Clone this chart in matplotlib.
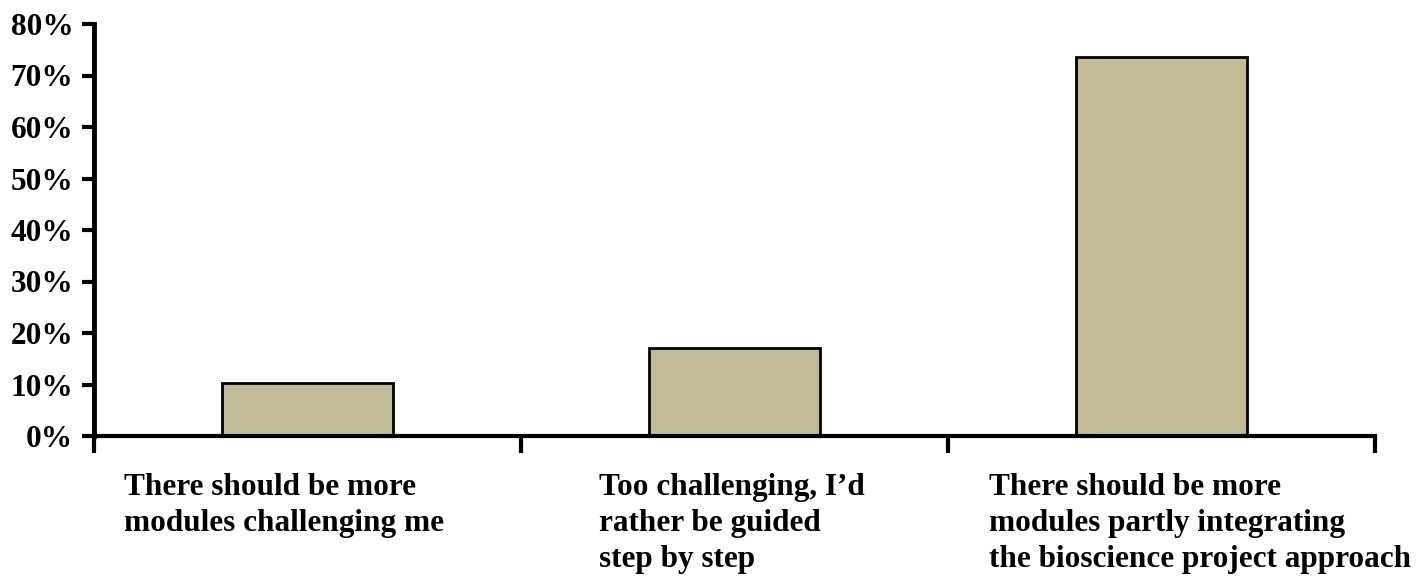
import matplotlib
matplotlib.use("Agg")
import matplotlib.pyplot as plt
from matplotlib.ticker import FixedLocator, PercentFormatter

categories = [
    "There should be more\nmodules challenging me",
    "Too challenging, I\u2019d\nrather be guided\nstep by step",
    "There should be more\nmodules partly integrating\nthe bioscience project approach",
]
shares = [10.2, 17.0, 73.5]
y_ticks = [0, 10, 20, 30, 40, 50, 60, 70, 80]

plt.rcParams["font.family"] = ["Liberation Serif", "DejaVu Serif"]
plt.rcParams["font.weight"] = "bold"

W, H = 1419, 580
fig = plt.figure(figsize=(W / 100, H / 100), dpi=100)
ax = fig.add_axes([94 / W, (H - 436) / H, (1375 - 94) / W, (436 - 24) / H])

x = list(range(len(categories)))
ax.bar(x, shares, width=0.40, color="#C1BC97", edgecolor="black", linewidth=2, zorder=2)

ax.set_xlim(-0.5, len(categories) - 0.5)
ax.set_ylim(0, 80)
ax.yaxis.set_major_locator(FixedLocator(y_ticks))
ax.yaxis.set_major_formatter(PercentFormatter(decimals=0))

for s in ("top", "right"):
    ax.spines[s].set_visible(False)
ax.spines["left"].set_linewidth(3.5)
ax.spines["bottom"].set_linewidth(3)

ax.tick_params(axis="y", direction="out", length=9, width=3, pad=6, labelsize=22.5)
for lbl in ax.get_yticklabels():
    lbl.set_fontweight("bold")

# category separators below the axis
ax.set_xticks([])
ax.xaxis.set_minor_locator(FixedLocator([i - 0.5 for i in range(len(categories) + 1)]))
ax.tick_params(axis="x", which="minor", direction="out", length=12, width=3)

# left-aligned multi-line category labels
label_left = [0.0235, 0.394, 0.699]
for xpos, text in zip(label_left, categories):
    ax.text(xpos, -0.09, text, transform=ax.transAxes, ha="left", va="top",
            fontsize=22.5, fontweight="bold", linespacing=1.32)

fig.savefig("out.png", dpi=100)
